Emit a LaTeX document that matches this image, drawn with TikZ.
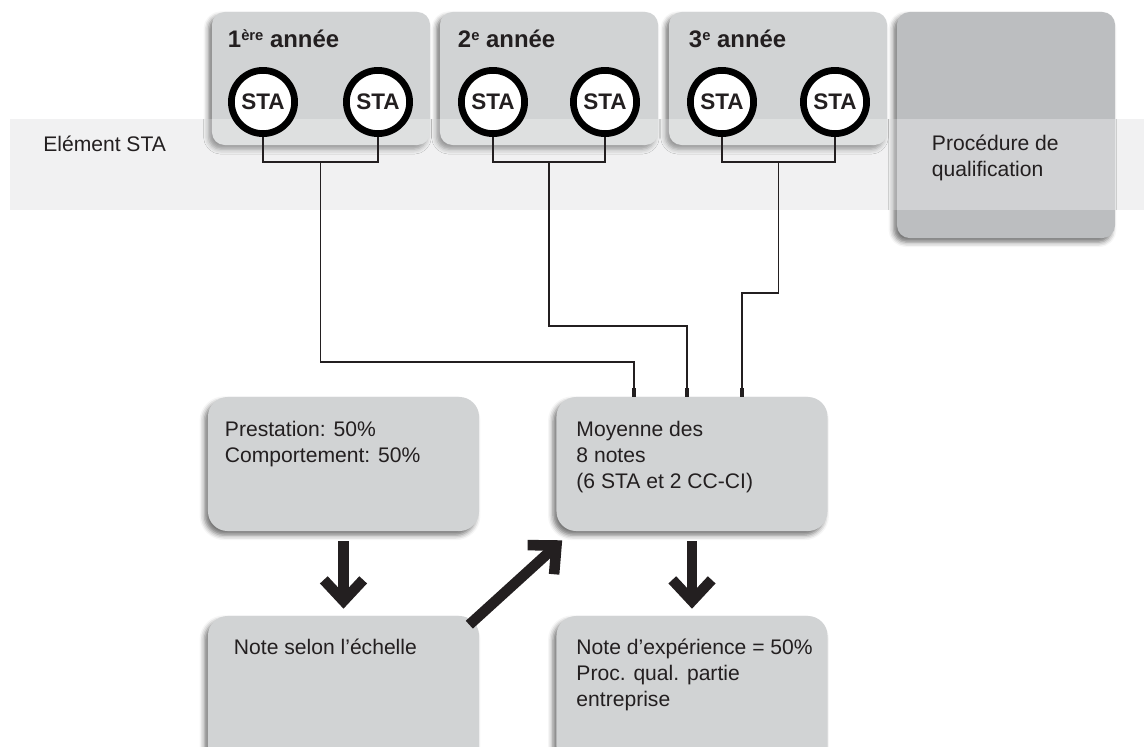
\documentclass[tikz,border=0pt]{standalone}
\usepackage{fontspec}
\setmainfont{Liberation Sans}
\usetikzlibrary{calc,arrows.meta,shadows.blur}
\definecolor{boxgray}{HTML}{D1D3D4}
\definecolor{qualgray}{HTML}{BCBEC0}
\definecolor{bandgray}{HTML}{EBECED}
\definecolor{ink}{HTML}{231F20}
\newcommand{\expo}[1]{\raisebox{.55ex}{\fontsize{10.5pt}{10.5pt}\selectfont #1}}
\tikzset{shad/.style={blur shadow={shadow xshift=-2.5pt,shadow yshift=-3pt,shadow blur radius=3.5pt,shadow opacity=55}}}
\tikzset{yearbox/.style={shad, fill=boxgray, rounded corners=9pt, minimum width=5.45cm, minimum height=3.325cm}}
\tikzset{qualbox/.style={shad, fill=qualgray, rounded corners=9pt, minimum width=5.45cm, minimum height=5.65cm}}
\tikzset{notebox/.style={shad, fill=boxgray, rounded corners=14pt, minimum width=6.775cm, minimum height=3.35cm}}
\tikzset{sta/.style={circle, draw=black, fill=white, line width=4.8pt, minimum size=1.58cm, font=\fontsize{16pt}{16pt}\bfseries}}
\tikzset{titre/.style={anchor=base west, font=\fontsize{17pt}{18pt}\bfseries}}
\tikzset{lbl/.style={anchor=base west, align=left, font=\fontsize{15pt}{18.3pt}\selectfont}}
\tikzset{feed/.style={draw=ink, line width=1.2pt}}
\tikzset{stub/.style={-{Rectangle[length=6pt,width=2.6pt]}}}
\tikzset{bigarrow/.style={draw=ink, line width=7.5pt, -{Straight Barb[length=15pt,width=28pt]}}}

\begin{document}
\begin{tikzpicture}[x=0.025cm, y=-0.025cm, every node/.style={inner sep=0pt, text=ink}]
\useasboundingbox (0,0) rectangle (1144,746);

\fill[bandgray] (10,119) rectangle (1144,210);

\node[yearbox] (an1) at (321,78.5) {};
\node[yearbox] (an2) at (549,78.5) {};
\node[yearbox] (an3) at (778,78.5) {};
\node[qualbox] (qual) at (1006,125) {};

\fill[white, opacity=.3] (10,119) rectangle (1144,210);

\node[titre] at ($(an1.north west)+(16,36)$) {1\expo{ère} année};
\node[titre] at ($(an2.north west)+(18,36)$) {2\expo{e} année};
\node[titre] at ($(an3.north west)+(20,36)$) {3\expo{e} année};

\node[sta] (s11) at (263,102) {STA};
\node[sta] (s12) at (378,102) {STA};
\node[sta] (s21) at (493,102) {STA};
\node[sta] (s22) at (605,102) {STA};
\node[sta] (s31) at (722,102) {STA};
\node[sta] (s32) at (835,102) {STA};

\node[lbl] (elem) at (43,151) {Elément STA};
\node[lbl] (qtxt) at ($(qual.north west)+(35,165)$) {Procédure de\\qualification};

\node[notebox] (pres) at (343.5,464) {};
\node[notebox] (moy) at (692,464) {};
\node[notebox, minimum height=3.75cm] (echelle) at (343.5,691) {};
\node[notebox, minimum height=3.75cm] (exp) at (692,691) {};

\node[lbl] at ($(pres.north west)+(17,66)$) {Prestation: 50\%\\Comportement: 50\%};
\node[lbl] at ($(moy.north west)+(20,91.5)$) {Moyenne des\\8 notes\\(6 STA et 2 CC-CI)};
\node[lbl] at ($(echelle.north west)+(26,39)$) {Note selon l’échelle};
\node[lbl] at ($(exp.north west)+(20,90.5)$) {Note d’expérience = 50\%\\Proc. qual. partie\\entreprise};

\coordinate (j1) at ($(s11.south)!.5!(s12.south)+(0,25)$);
\coordinate (j2) at ($(s21.south)!.5!(s22.south)+(0,25)$);
\coordinate (j3) at ($(s31.south)!.5!(s32.south)+(0,25)$);
\draw[feed] (s11.south) |- (j1) -| (s12.south);
\draw[feed] (s21.south) |- (j2) -| (s22.south);
\draw[feed] (s31.south) |- (j3) -| (s32.south);
\draw[feed, stub] (j1) -- ++(0,200) -| ($(moy.north)+(-58,0)$);
\draw[feed, stub] (j2) -- ++(0,164) -| ($(moy.north)+(-5,0)$);
\draw[feed, stub] (j3) -- ++(0,131) -| ($(moy.north)+(50,0)$);

\draw[bigarrow] ([yshift=-7pt]pres.south) -- ([yshift=5pt]echelle.north);
\draw[bigarrow] ([yshift=-7pt]moy.south) -- ([yshift=5pt]exp.north);
\draw[bigarrow] ($(echelle.north east)+(-10,9)$) -- ($(moy.south west)+(6,9)$);
\end{tikzpicture}
\end{document}
